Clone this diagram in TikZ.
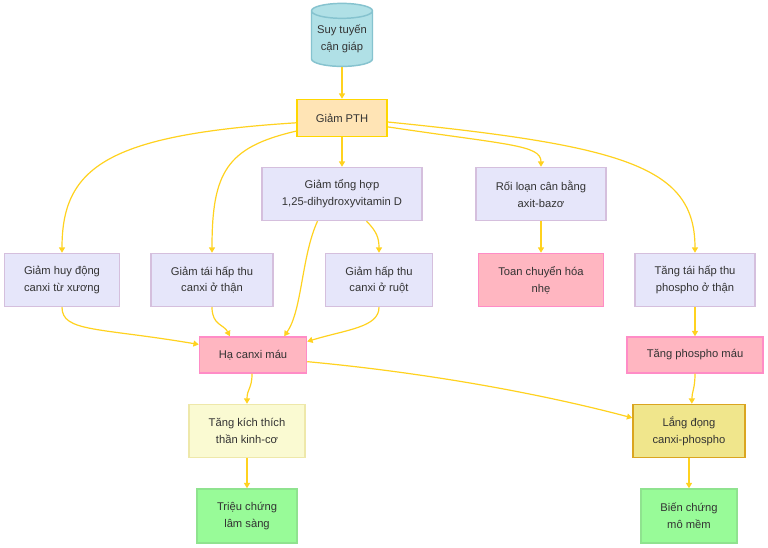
\documentclass[tikz,border=0pt]{standalone}
\usepackage{fontspec}
\setmainfont{Liberation Sans}
\usepackage{xcolor}
\usetikzlibrary{shapes.geometric, arrows.meta}

\definecolor{txtgray}{HTML}{333333}
\definecolor{linkgold}{HTML}{FFD21F}
\definecolor{lavfill}{HTML}{E6E6FA}
\definecolor{lavline}{HTML}{D5BFDD}
\definecolor{pinkfill}{HTML}{FFB6C1}
\definecolor{pinkline}{HTML}{FF8CC6}
\definecolor{pthfill}{HTML}{FFE4B5}
\definecolor{pthline}{HTML}{FFD700}
\definecolor{cylfill}{HTML}{B0E0E6}
\definecolor{cylline}{HTML}{86C3CF}
\definecolor{ltyfill}{HTML}{FAFAD2}
\definecolor{ltyline}{HTML}{EEE8AA}
\definecolor{khakifill}{HTML}{F0E68C}
\definecolor{khakiline}{HTML}{DAA520}
\definecolor{grnfill}{HTML}{98FB98}
\definecolor{grnline}{HTML}{8FE38F}

\begin{document}
\begin{tikzpicture}[x=0.75pt, y=-0.75pt,
    every node/.style={font=\fontsize{8.4}{12.6}\selectfont, text=txtgray, align=center, inner sep=0pt},
    box/.style={rectangle, draw=lavline, fill=lavfill, line width=1.1pt, minimum height=39.75pt},
    pinkbox/.style={box, draw=pinkline, fill=pinkfill},
    greenbox/.style={box, draw=grnline, fill=grnfill, minimum height=40.5pt},
    link/.style={draw=linkgold, line width=0.9pt, -{Triangle[length=4pt,width=4.5pt]}}]

    \useasboundingbox[fill=white] (0,0) rectangle (768,548);

    % nodes
    \node[cylinder, shape border rotate=90, aspect=0.3, draw=cylline, fill=cylfill, line width=1.1pt,
          minimum width=45.75pt, minimum height=47.25pt] (suy) at (342,39) {Suy tuyến\\cận giáp};
    \node[box, draw=pthline, fill=pthfill, minimum width=67.5pt, minimum height=27.75pt] (pth) at (342,118) {Giảm PTH};

    \node[box, minimum width=120pt] (tong) at (342,194) {Giảm tổng hợp\\1,25-dihydroxyvitamin D};
    \node[box, minimum width=97.5pt] (roi) at (541,194) {Rối loạn cân bằng\\axit-bazơ};

    \node[box, minimum width=86.25pt] (huy) at (62,280) {Giảm huy động\\canxi từ xương};
    \node[box, minimum width=91.5pt] (tai) at (212,280) {Giảm tái hấp thu\\canxi ở thận};
    \node[box, minimum width=80.25pt] (ruot) at (379,280) {Giảm hấp thu\\canxi ở ruột};
    \node[pinkbox, minimum width=93.75pt] (toan) at (541,280) {Toan chuyển hóa\\nhẹ};
    \node[box, minimum width=90pt] (tangtai) at (695,280) {Tăng tái hấp thu\\phospho ở thận};

    \node[pinkbox, minimum width=80.25pt, minimum height=27pt] (ha) at (253,355) {Hạ canxi máu};
    \node[pinkbox, minimum width=102pt, minimum height=27pt] (tangp) at (695,355) {Tăng phospho máu};

    \node[box, draw=ltyline, fill=ltyfill, minimum width=87pt] (kich) at (247,431) {Tăng kích thích\\thần kinh-cơ};
    \node[box, draw=khakiline, fill=khakifill, minimum width=84pt] (lang) at (689,431) {Lắng đọng\\canxi-phospho};

    \node[greenbox, minimum width=75pt] (trieu) at (247,516) {Triệu chứng\\lâm sàng};
    \node[greenbox, minimum width=72pt] (bien) at (689,516) {Biến chứng\\mô mềm};

    % links
    \draw[link] (suy) -- (pth);
    \draw[link] (pth.186) .. controls +(-190,12) and +(0,-85) .. (huy.north);
    \draw[link] (pth.196) .. controls +(-70,16) and +(0,-80) .. (tai.north);
    \draw[link] (pth) -- (tong);
    \draw[link] (pth.349) .. controls +(120,18) and +(0,-22) .. (roi.north);
    \draw[link] (pth.355) .. controls +(240,24) and +(0,-85) .. (tangtai.north);

    \draw[link] (tong.228) .. controls +(-16,35) and +(18,-26) .. (ha.31);
    \draw[link] (tong.312) .. controls +(10,10) and +(0,-15) .. (ruot.north);
    \draw[link] (roi) -- (toan);

    \draw[link] (huy.south) .. controls +(0,25) and +(-100,-17) .. (ha.169);
    \draw[link] (tai.south) .. controls +(0,18) and +(-6,-12) .. (ha.141);
    \draw[link] (ruot.south) .. controls +(0,20) and +(40,-12) .. (ha.14);
    \draw[link] (tangtai) -- (tangp);

    \draw[link] (ha.-93) .. controls +(0,15) and +(0,-15) .. (kich.north);
    \draw[link] (ha.353) .. controls +(150,14) and +(-60,-16) .. (lang.167);
    \draw[link] (tangp.south) .. controls +(0,15) and +(0,-12) .. (lang.84);

    \draw[link] (kich) -- (trieu);
    \draw[link] (lang) -- (bien);
\end{tikzpicture}
\end{document}
